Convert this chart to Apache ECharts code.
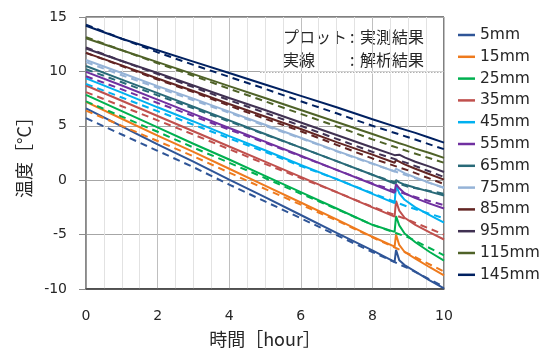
<!DOCTYPE html>
<html><head><meta charset="utf-8">
<script src="https://cdn.jsdelivr.net/npm/echarts@6/dist/echarts.min.js"></script>
<style>html,body{margin:0;padding:0;background:#fff}#c{width:542px;height:353px}</style>
</head><body><div id="c"></div>
<script>
// depths (legend)
const depths = ['5mm','15mm','25mm','35mm','45mm','55mm','65mm','75mm','85mm','95mm','115mm','145mm'];
const colors = ['#2F5597','#EE7A1D','#00B050','#C0504D','#00B0F0','#7030A0','#296A78','#95B3D7','#632523','#403152','#4F6228','#002060'];

// measured (solid) – time [hour]
const tMeasured = [0,1,2,3,4,5,6,7,8,8.62,8.66,8.75,8.9,9.2,9.6,10];
const m5   = [6.6,4.95,3.3,1.7,0.05,-1.55,-3.2,-4.85,-6.45,-7.5,-6.4,-7.35,-7.8,-8.4,-9.2,-9.95];
const m15  = [7.2,5.65,4.1,2.6,1.05,-0.5,-2.05,-3.6,-5.2,-6.1,-5.0,-5.95,-6.6,-7.2,-8.0,-8.75];
const m25  = [7.85,6.35,4.85,3.35,1.9,0.4,-1.1,-2.6,-4.1,-4.75,-3.3,-4.15,-4.9,-5.7,-6.6,-7.4];
const m35  = [8.7,7.3,5.9,4.5,3.1,1.7,0.3,-1.1,-2.5,-3.35,-1.9,-2.8,-3.45,-4.1,-4.8,-5.45];
const m45  = [9.36,8.05,6.7,5.4,4.05,2.75,1.4,0.1,-1.25,-2.1,-0.45,-1.2,-1.8,-2.5,-3.2,-3.9];
const m55  = [9.96,8.7,7.4,6.1,4.8,3.55,2.25,0.95,-0.35,-1.15,-0.35,-0.75,-1.2,-1.65,-2.15,-2.6];
const m65  = [10.5,9.25,8.0,6.75,5.5,4.25,3.0,1.75,0.5,-0.3,0.0,-0.2,-0.4,-0.7,-1.05,-1.4];
const m75  = [11.05,9.85,8.65,7.5,6.3,5.1,3.9,2.7,1.55,0.8,1.05,0.9,0.65,0.25,-0.25,-0.7];
const m85  = [11.7,10.55,9.35,8.2,7.0,5.85,4.7,3.5,2.35,1.6,1.85,1.7,1.45,1.05,0.55,0.05];
const m95  = [12.1,10.95,9.85,8.7,7.55,6.45,5.3,4.15,3.0,2.3,2.45,2.35,2.1,1.7,1.25,0.75];
const m115 = [13.05,11.95,10.85,9.75,8.65,7.55,6.45,5.35,4.25,3.55,3.5,3.4,3.25,2.9,2.5,2.05];
const m145 = [14.2,13.0,11.95,10.9,9.85,8.8,7.75,6.7,5.6,4.95,4.9,4.8,4.65,4.35,3.9,3.45];

// analysis (dashed)
const tAnalysis = [0,1,2,3,4,5,6,7,8,9,10];
const a5   = [5.7,4.2,2.7,1.2,-0.4,-1.95,-3.5,-5.05,-6.6,-8.1,-9.8];
const a15  = [6.4,5.0,3.6,2.2,0.7,-0.8,-2.25,-3.7,-5.25,-6.75,-8.4];
const a25  = [7.25,5.85,4.45,3.0,1.6,0.2,-1.25,-2.65,-4.1,-5.25,-6.9];
const a35  = [8.1,6.8,5.5,4.2,2.85,1.5,0.2,-1.1,-2.45,-3.65,-5.0];
const a45  = [8.85,7.6,6.35,5.1,3.85,2.6,1.3,0.1,-1.2,-2.45,-3.5];
const a55  = [9.55,8.35,7.1,5.9,4.65,3.45,2.2,0.95,-0.3,-1.35,-2.3];
const a65  = [10.2,9.0,7.8,6.6,5.4,4.2,3.0,1.75,0.5,-0.6,-1.25];
const a75  = [10.85,9.65,8.5,7.35,6.2,5.0,3.85,2.65,1.5,0.4,-0.7];
const a85  = [11.7,10.5,9.25,8.1,6.85,5.65,4.5,3.25,2.0,0.9,-0.35];
const a95  = [12.2,10.95,9.75,8.55,7.35,6.2,5.0,3.8,2.6,1.55,0.3];
const a115 = [13.15,11.95,10.75,9.6,8.4,7.25,6.1,4.95,3.75,2.65,1.6];
const a145 = [14.3,13.0,11.75,10.6,9.5,8.4,7.25,6.15,5.0,3.95,2.85];

const measured = [m5,m15,m25,m35,m45,m55,m65,m75,m85,m95,m115,m145];
const analysis = [a5,a15,a25,a35,a45,a55,a65,a75,a85,a95,a115,a145];

const xMin = 0, xMax = 10, xStep = 2;
const yMin = -10, yMax = 15, yStep = 5;

const numFont = 'DejaVu Sans';
const jpFont = 'Noto Sans CJK JP';
const txt = '#262626';

const series = [];
depths.forEach((d, i) => {
  series.push({
    name: d, type: 'line', symbol: 'none', z: 2,
    data: tMeasured.map((t, k) => [t, measured[i][k]]),
    lineStyle: { color: colors[i], width: 2 }, itemStyle: { color: colors[i] }
  });
});
depths.forEach((d, i) => {
  series.push({
    name: d + ' 解析', type: 'line', symbol: 'none', z: 3,
    data: tAnalysis.map((t, k) => [t, analysis[i][k]]),
    lineStyle: { color: colors[i], width: 2, type: [7, 5] }, itemStyle: { color: colors[i] }
  });
});

const chart = echarts.init(document.getElementById('c'), null, { renderer: 'canvas' });
chart.setOption({
  animation: false,
  backgroundColor: '#fff',
  grid: { left: 86, right: 98, top: 17, bottom: 61, show: true, borderColor: '#000', borderWidth: 1, backgroundColor: 'transparent' },
  xAxis: {
    type: 'value', min: xMin, max: xMax, interval: xStep,
    axisLine: { show: true, onZero: false, lineStyle: { color: '#404040', width: 1.5 } },
    axisTick: { show: false },
    minorTick: { show: false, splitNumber: 4 },
    splitLine: { show: true, lineStyle: { color: '#bfbfbf', width: 1 } },
    minorSplitLine: { show: true, lineStyle: { color: '#e2e2e2', width: 1 } },
    axisLabel: { fontSize: 14, color: txt, margin: 20, fontFamily: numFont },
    name: '時間［hour］', nameLocation: 'middle', nameGap: 41,
    nameTextStyle: { fontSize: 18, color: txt, fontFamily: jpFont }
  },
  yAxis: {
    type: 'value', min: yMin, max: yMax, interval: yStep,
    axisLine: { show: true, onZero: false, lineStyle: { color: '#8c8c8c', width: 1.5 } },
    axisTick: { show: true, length: 7, lineStyle: { color: '#8c8c8c' } },
    splitLine: { show: true, lineStyle: { color: '#a6a6a6', width: 1 } },
    axisLabel: { fontSize: 14, color: txt, margin: 19, fontFamily: numFont },
    name: '温度［°C］', nameLocation: 'middle', nameGap: 52, nameRotate: 90,
    nameTextStyle: { fontSize: 18, color: txt, fontFamily: jpFont }
  },
  legend: {
    data: depths, orient: 'vertical', left: 453, top: 22,
    icon: 'rect', itemWidth: 17, itemHeight: 2.5, itemGap: 5.8,
    textStyle: { fontSize: 15.5, lineHeight: 16, color: txt, fontFamily: numFont }
  },
  graphic: [
    { type: 'line', z: 1, shape: { x1: 260, y1: 72.5, x2: 443, y2: 72.5 }, style: { stroke: '#fff', lineWidth: 2 } },
    { type: 'line', z: 1, shape: { x1: 260, y1: 72.5, x2: 443, y2: 72.5 }, style: { stroke: '#b0b0b0', lineWidth: 1, lineDash: [1.5, 1.5] } },
    { type: 'text', x: 283, y: 37, style: { text: 'プロット', fontSize: 16, fontFamily: jpFont, fill: txt, verticalAlign: 'middle' } },
    { type: 'text', x: 350, y: 37, style: { text: ':', fontSize: 16, fontFamily: jpFont, fill: txt, verticalAlign: 'middle' } },
    { type: 'text', x: 360, y: 37, style: { text: '実測結果', fontSize: 16, fontFamily: jpFont, fill: txt, verticalAlign: 'middle' } },
    { type: 'text', x: 283, y: 60, style: { text: '実線', fontSize: 16, fontFamily: jpFont, fill: txt, verticalAlign: 'middle' } },
    { type: 'text', x: 350, y: 60, style: { text: ':', fontSize: 16, fontFamily: jpFont, fill: txt, verticalAlign: 'middle' } },
    { type: 'text', x: 360, y: 60, style: { text: '解析結果', fontSize: 16, fontFamily: jpFont, fill: txt, verticalAlign: 'middle' } }
  ],
  series: series
});
</script>
</body></html>
